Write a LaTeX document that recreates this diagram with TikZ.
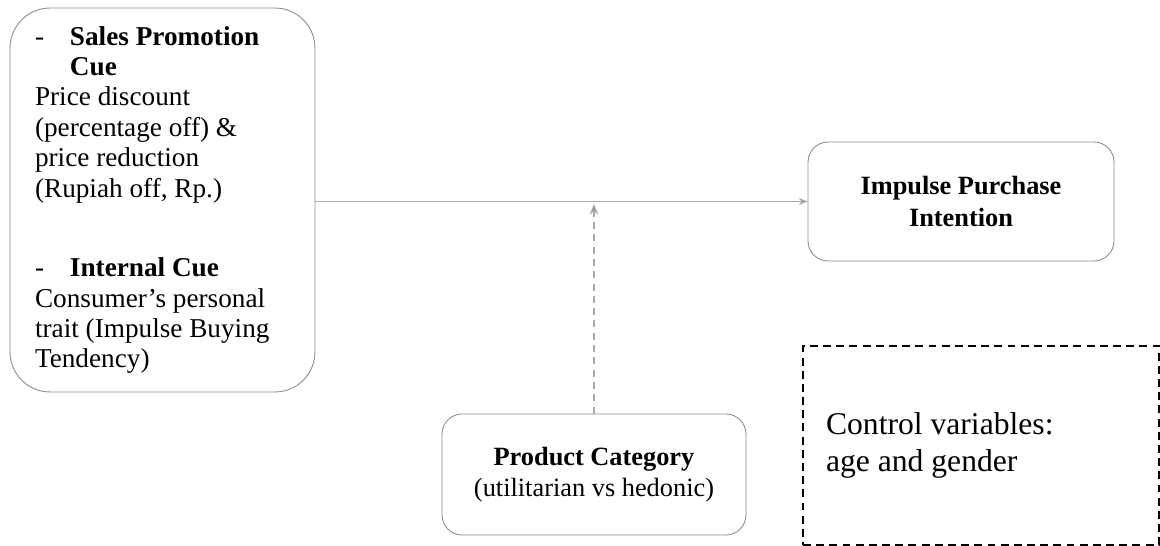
\documentclass[tikz,border=0pt]{standalone}
\usepackage{fontspec}
\setmainfont{Liberation Serif}
\usetikzlibrary{arrows.meta}

\definecolor{boxgray}{HTML}{8C8C8C}
\definecolor{linegray}{HTML}{AAAAAA}

\tikzset{
  roundbox/.style={draw=boxgray, line width=0.5pt, align=center},
  flow/.style={draw=linegray, line width=0.6pt, -{Stealth[length=5pt,width=4pt,fill=boxgray]}},
  modline/.style={draw=linegray, line width=0.6pt, dash pattern=on 4pt off 3pt, -{Stealth[length=6pt,width=5pt,fill=boxgray]}},
  ctrlbox/.style={draw=black, line width=1.1pt, dash pattern=on 4.5pt off 3pt}
}

\begin{document}
\begin{tikzpicture}[x=0.02cm, y=-0.02cm]
  \useasboundingbox (0,0) rectangle (1160,546);

  % left block of cues
  \node[roundbox, rounded corners=0.8cm, minimum width=6.1cm, minimum height=7.68cm,
        text width=5.1cm, align=flush left, font=\fontsize{15.5}{17.3}\selectfont] (cues) at (162.5,200)
    {-\hspace{0.95em}\textbf{Sales Promotion}\\
     \hphantom{-}\hspace{0.95em}\textbf{Cue}\\
     Price discount\\
     (percentage off) \&\\
     price reduction\\
     (Rupiah off, Rp.)\\[28pt]
     -\hspace{0.95em}\textbf{Internal Cue}\\
     Consumer's personal\\
     trait (Impulse Buying\\
     Tendency)};

  \node[roundbox, rounded corners=0.4cm, minimum width=6.12cm, minimum height=2.38cm,
        font=\fontsize{15}{18}\selectfont\bfseries] (intention) at (961,201.5)
    {Impulse Purchase\\ Intention};

  \node[roundbox, rounded corners=0.4cm, minimum width=6.08cm, minimum height=2.42cm,
        font=\fontsize{15}{17.5}\selectfont] (category) at (594,474.5)
    {\textbf{Product Category}\\ (utilitarian vs hedonic)};

  \node[ctrlbox, minimum width=7.12cm, minimum height=3.98cm, inner xsep=0.44cm,
        text width=6.2cm, align=flush left, font=\fontsize{18}{21.5}\selectfont] (controls) at (981,445.5)
    {Control variables:\\ age and gender};

  % connectors
  \coordinate (mid) at (category.north |- intention.west);
  \draw[flow] (cues.east |- intention.west) -- (intention.west);
  \draw[modline] (category.north) -- ([yshift=-1.5pt]mid);
\end{tikzpicture}
\end{document}
